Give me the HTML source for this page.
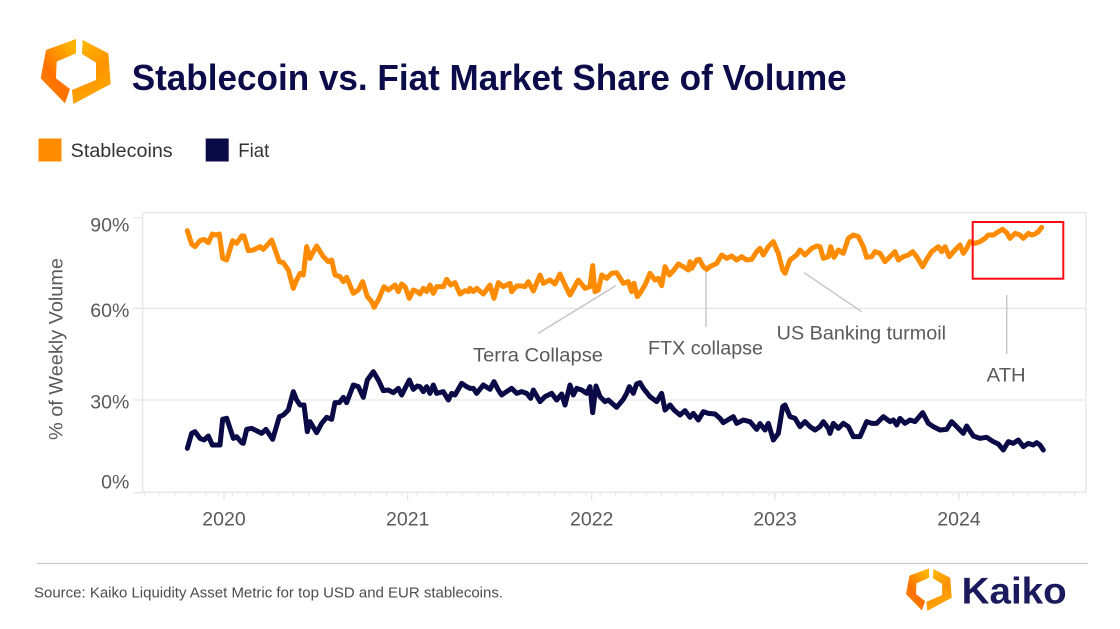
<!DOCTYPE html>
<html>
<head>
<meta charset="utf-8">
<style>
  html,body{margin:0;padding:0;background:#ffffff;}
  svg{display:block;}
  text{font-family:"Liberation Sans", Arial, sans-serif;}
</style>
</head>
<body>
<svg width="1120" height="629" viewBox="0 0 1120 629" xmlns="http://www.w3.org/2000/svg">
  <defs>
    <linearGradient id="gl" x1="0" y1="1" x2="0.7" y2="0">
      <stop offset="0" stop-color="#ff8a00"/>
      <stop offset="0.45" stop-color="#ff7000"/>
      <stop offset="1" stop-color="#ffb300"/>
    </linearGradient>
    <linearGradient id="gr" x1="0.3" y1="0" x2="0.7" y2="1">
      <stop offset="0" stop-color="#ffb800"/>
      <stop offset="0.5" stop-color="#ff9200"/>
      <stop offset="1" stop-color="#ffae00"/>
    </linearGradient>
  </defs>
  <rect width="1120" height="629" fill="#ffffff"/>

  <!-- Top logo -->
  <g transform="translate(20,20) scale(0.33333)">
    <polygon points="168,57 78,90 62,175 135,250 150,207 108,175 110,125 168,100" fill="url(#gl)"/>
    <polygon points="188,60 265,100 272,192 160,252 156,210 228,180 228,128 186,102" fill="url(#gr)"/>
  </g>

  <!-- Title -->
  <text x="131.7" y="90" font-size="36" font-weight="bold" fill="#0c0c4a" textLength="715" lengthAdjust="spacingAndGlyphs">Stablecoin vs. Fiat Market Share of Volume</text>

  <!-- Legend -->
  <rect x="38.5" y="138.5" width="23" height="23" fill="#ff8b00"/>
  <text x="70.7" y="157" font-size="19.5" fill="#333333" textLength="102" lengthAdjust="spacingAndGlyphs">Stablecoins</text>
  <rect x="205.7" y="138.5" width="23" height="23" fill="#0a0a46"/>
  <text x="238.3" y="157" font-size="19.5" fill="#333333" textLength="31" lengthAdjust="spacingAndGlyphs">Fiat</text>

  <!-- Plot frame and grid -->
  <g stroke="#e6e6e6" stroke-width="1.3" fill="none">
    <line x1="142.7" y1="212.7" x2="1086" y2="212.7"/>
    <line x1="142.7" y1="212.7" x2="142.7" y2="492.7"/>
    <line x1="1086" y1="212.7" x2="1086" y2="492.7"/>
    <line x1="142.7" y1="308.3" x2="1086" y2="308.3"/>
    <line x1="142.7" y1="400" x2="1086" y2="400"/>
    <line x1="133" y1="217.7" x2="142.7" y2="217.7"/>
    <line x1="133" y1="308.3" x2="142.7" y2="308.3"/>
    <line x1="133" y1="400" x2="142.7" y2="400"/>
    <line x1="133" y1="492.7" x2="142.7" y2="492.7"/>
  </g>
  <line x1="142.7" y1="492.2" x2="1086" y2="492.2" stroke="#ebebeb" stroke-width="2"/>

  <!-- x ticks -->
  <g stroke="#e0e0e0" stroke-width="1.2">
    <line x1="224" y1="493" x2="224" y2="500"/>
    <line x1="407.7" y1="493" x2="407.7" y2="500"/>
    <line x1="591.7" y1="493" x2="591.7" y2="500"/>
    <line x1="775" y1="493" x2="775" y2="500"/>
    <line x1="959" y1="493" x2="959" y2="500"/>
  </g>
  <g stroke="#e6e6e6" stroke-width="1">
    <line x1="144.6" y1="493" x2="144.6" y2="496"/><line x1="159.9" y1="493" x2="159.9" y2="496"/><line x1="175.2" y1="493" x2="175.2" y2="496"/><line x1="190.5" y1="493" x2="190.5" y2="496"/><line x1="205.8" y1="493" x2="205.8" y2="496"/><line x1="218.3" y1="493" x2="218.3" y2="496"/>
    <line x1="232.5" y1="493" x2="232.5" y2="496"/><line x1="247.8" y1="493" x2="247.8" y2="496"/><line x1="263.1" y1="493" x2="263.1" y2="496"/><line x1="278.4" y1="493" x2="278.4" y2="496"/><line x1="293.7" y1="493" x2="293.7" y2="496"/><line x1="309" y1="493" x2="309" y2="496"/><line x1="324.3" y1="493" x2="324.3" y2="496"/><line x1="339.6" y1="493" x2="339.6" y2="496"/><line x1="354.9" y1="493" x2="354.9" y2="496"/><line x1="370.2" y1="493" x2="370.2" y2="496"/><line x1="386.7" y1="493" x2="386.7" y2="496"/><line x1="402" y1="493" x2="402" y2="496"/>
    <line x1="416.7" y1="493" x2="416.7" y2="496"/><line x1="432" y1="493" x2="432" y2="496"/><line x1="447.3" y1="493" x2="447.3" y2="496"/><line x1="462.6" y1="493" x2="462.6" y2="496"/><line x1="477.9" y1="493" x2="477.9" y2="496"/><line x1="493.2" y1="493" x2="493.2" y2="496"/><line x1="508.5" y1="493" x2="508.5" y2="496"/><line x1="523.8" y1="493" x2="523.8" y2="496"/><line x1="539.1" y1="493" x2="539.1" y2="496"/><line x1="554.4" y1="493" x2="554.4" y2="496"/><line x1="569.7" y1="493" x2="569.7" y2="496"/><line x1="586" y1="493" x2="586" y2="496"/>
    <line x1="600.2" y1="493" x2="600.2" y2="496"/><line x1="615.5" y1="493" x2="615.5" y2="496"/><line x1="630.8" y1="493" x2="630.8" y2="496"/><line x1="646.1" y1="493" x2="646.1" y2="496"/><line x1="661.4" y1="493" x2="661.4" y2="496"/><line x1="676.7" y1="493" x2="676.7" y2="496"/><line x1="692" y1="493" x2="692" y2="496"/><line x1="707.3" y1="493" x2="707.3" y2="496"/><line x1="722.6" y1="493" x2="722.6" y2="496"/><line x1="737.9" y1="493" x2="737.9" y2="496"/><line x1="753.2" y1="493" x2="753.2" y2="496"/><line x1="769.3" y1="493" x2="769.3" y2="496"/>
    <line x1="783.3" y1="493" x2="783.3" y2="496"/><line x1="798.6" y1="493" x2="798.6" y2="496"/><line x1="813.9" y1="493" x2="813.9" y2="496"/><line x1="829.2" y1="493" x2="829.2" y2="496"/><line x1="844.5" y1="493" x2="844.5" y2="496"/><line x1="859.8" y1="493" x2="859.8" y2="496"/><line x1="875.1" y1="493" x2="875.1" y2="496"/><line x1="890.4" y1="493" x2="890.4" y2="496"/><line x1="905.7" y1="493" x2="905.7" y2="496"/><line x1="921" y1="493" x2="921" y2="496"/><line x1="936.3" y1="493" x2="936.3" y2="496"/><line x1="953.3" y1="493" x2="953.3" y2="496"/>
    <line x1="967.5" y1="493" x2="967.5" y2="496"/><line x1="982.8" y1="493" x2="982.8" y2="496"/><line x1="998.1" y1="493" x2="998.1" y2="496"/><line x1="1013.4" y1="493" x2="1013.4" y2="496"/><line x1="1028.7" y1="493" x2="1028.7" y2="496"/><line x1="1044" y1="493" x2="1044" y2="496"/><line x1="1059.3" y1="493" x2="1059.3" y2="496"/><line x1="1074.6" y1="493" x2="1074.6" y2="496"/>
  </g>

  <!-- Y axis labels -->
  <g font-size="19.5" fill="#5a5a5a" text-anchor="end">
    <text x="129.3" y="231.7">90%</text>
    <text x="129.3" y="317">60%</text>
    <text x="129.3" y="408.7">30%</text>
    <text x="129.3" y="488.7">0%</text>
  </g>
  <text transform="translate(62.5,349) rotate(-90)" font-size="19.5" fill="#5a5a5a" text-anchor="middle" textLength="182" lengthAdjust="spacingAndGlyphs">% of Weekly Volume</text>

  <!-- X axis labels -->
  <g font-size="19.5" fill="#5a5a5a" text-anchor="middle">
    <text x="224" y="525.5">2020</text>
    <text x="407.7" y="525.5">2021</text>
    <text x="591.7" y="525.5">2022</text>
    <text x="775" y="525.5">2023</text>
    <text x="959" y="525.5">2024</text>
  </g>

  <!-- Annotation lines -->
  <g stroke="#c8c8c8" stroke-width="1.5" fill="none">
    <line x1="538.3" y1="333.3" x2="615.7" y2="285.7"/>
    <line x1="706" y1="270" x2="706" y2="327"/>
    <line x1="804.3" y1="272.7" x2="861.7" y2="311.7"/>
    <line x1="1006.7" y1="295" x2="1006.7" y2="354"/>
  </g>

  <!-- Series: segment A -->
  <g transform="translate(180,220) scale(0.33333)" fill="none" stroke-linejoin="round" stroke-linecap="round" stroke-width="15">
    <polyline stroke="#ff8b00" points="22,32 35,72 45,80 60,62 72,58 85,68 97,42 108,45 118,42 128,115 140,120 158,62 170,70 185,48 192,48 205,92 220,90 240,80 250,88 262,75 275,60 298,125 310,128 325,150 340,205 350,180 360,160 370,165 380,80 390,115 400,95 410,78 430,110 445,125 455,120 465,165 480,170 490,185 500,172 520,220 535,210 548,185 562,230 575,245 582,262 595,240 612,200 625,210 645,195 655,215 665,192 675,200 688,235 700,210 712,215 720,222 730,205 740,215 750,195 760,220 770,200 790,200 800,178 812,195 825,188 840,222 855,212 865,215 870,205"/>
    <polyline stroke="#0a0a46" points="22,685 35,640 45,635 60,655 72,660 85,648 97,675 108,675 120,675 128,598 140,595 160,655 170,650 185,668 190,670 200,628 215,625 235,635 245,640 258,628 278,658 298,590 310,585 325,570 340,515 350,540 360,555 372,555 382,635 390,605 410,638 425,610 440,592 455,598 465,548 478,548 490,532 500,548 520,495 535,500 550,532 562,480 580,455 595,480 610,512 625,510 640,518 655,505 665,525 688,480 700,508 712,498 720,500 730,515 740,500 750,520 760,495 770,520 790,515 805,540 815,520 825,525 845,490 860,500 870,505"/>
  </g>
  <!-- Series: segment B -->
  <g transform="translate(470,220) scale(0.33333)" fill="none" stroke-linejoin="round" stroke-linecap="round" stroke-width="15">
    <polyline stroke="#ff8b00" points="0,205 10,215 20,205 40,222 60,195 72,235 85,188 100,200 120,190 125,215 140,198 155,198 165,200 175,185 190,213 210,165 220,190 240,180 255,192 270,162 285,195 300,225 315,198 325,180 345,205 360,200 368,137 375,215 385,210 395,165 410,175 425,160 440,158 460,190 475,185 485,215 492,190 502,230 510,220 525,195 540,160 555,180 565,175 575,197 585,140 598,165 612,150 625,132 640,140 655,150 660,125 665,145 680,120 688,118 700,140 710,148 720,140 740,130 755,105 770,115 785,108 800,120 815,110 830,120 845,118 860,95 870,85"/>
    <polyline stroke="#0a0a46" points="0,505 10,505 20,520 40,495 60,508 72,485 85,510 95,525 105,518 125,505 140,520 155,515 170,520 182,535 190,510 210,545 225,530 245,520 260,540 275,522 285,555 300,495 310,525 320,505 335,510 350,520 360,500 368,578 378,498 390,530 405,545 415,540 440,562 460,538 470,520 478,500 490,520 500,492 510,488 520,505 540,530 560,545 575,520 585,570 600,555 612,570 630,585 645,572 660,592 670,580 685,600 700,575 715,580 735,582 750,595 760,608 770,602 790,590 800,610 820,600 840,605 860,628 870,611"/>
  </g>
  <!-- Series: segment C -->
  <g transform="translate(760,220) scale(0.33333)" fill="none" stroke-linejoin="round" stroke-linecap="round" stroke-width="15">
    <polyline stroke="#ff8b00" points="0,85 10,105 25,80 40,65 55,100 68,150 75,160 90,120 110,105 120,90 135,105 155,85 170,78 180,80 190,115 205,110 212,80 222,112 235,90 250,100 265,55 280,45 295,50 310,80 320,112 335,110 345,95 360,100 375,125 390,110 405,95 415,120 430,110 445,105 458,95 470,110 488,140 500,118 515,95 535,80 545,95 555,80 568,110 585,90 600,75 610,100 620,85 630,65 645,70 660,65 675,55 685,45 700,45 715,35 728,28 740,38 750,55 765,40 780,45 790,55 805,40 815,45 825,42 835,35 845,22"/>
    <polyline stroke="#0a0a46" points="0,611 15,630 25,610 40,660 55,640 68,560 75,555 90,590 105,595 120,620 135,605 150,620 165,630 180,620 190,605 205,625 210,640 220,610 235,625 250,610 265,620 280,650 300,650 320,605 335,610 350,610 370,590 390,605 400,600 410,615 420,595 435,610 450,600 465,605 488,578 505,610 520,620 540,630 560,628 575,605 590,620 610,640 620,618 640,648 660,655 680,652 700,665 715,672 730,690 745,665 760,670 775,660 790,680 805,670 820,675 830,668 840,675 850,690"/>
  </g>

  <!-- ATH box -->
  <rect x="972.7" y="222" width="90.6" height="56.7" fill="none" stroke="#ff0a14" stroke-width="2"/>

  <!-- Annotation text -->
  <g font-size="19" fill="#5a5a5a">
    <text x="473" y="361.7" textLength="130" lengthAdjust="spacingAndGlyphs">Terra Collapse</text>
    <text x="648" y="354.3" textLength="115" lengthAdjust="spacingAndGlyphs">FTX collapse</text>
    <text x="776.7" y="339.3" textLength="169.3" lengthAdjust="spacingAndGlyphs">US Banking turmoil</text>
    <text x="986.7" y="381.7" textLength="39" lengthAdjust="spacingAndGlyphs">ATH</text>
  </g>

  <!-- Footer -->
  <line x1="36.7" y1="563.5" x2="1088" y2="563.5" stroke="#c8c8c8" stroke-width="1.3"/>
  <text x="34" y="597.5" font-size="14.5" fill="#4d4d4d" textLength="469" lengthAdjust="spacingAndGlyphs">Source: Kaiko Liquidity Asset Metric for top USD and EUR stablecoins.</text>

  <!-- Bottom logo -->
  <g transform="translate(892.5,556) scale(0.2177)">
    <polygon points="168,57 78,90 62,175 135,250 150,207 108,175 110,125 168,100" fill="url(#gl)"/>
    <polygon points="188,60 265,100 272,192 160,252 156,210 228,180 228,128 186,102" fill="url(#gr)"/>
  </g>
  <text x="961.7" y="603.3" font-size="37" font-weight="bold" fill="#1a1a5c" textLength="105" lengthAdjust="spacingAndGlyphs">Kaiko</text>
</svg>
</body>
</html>
